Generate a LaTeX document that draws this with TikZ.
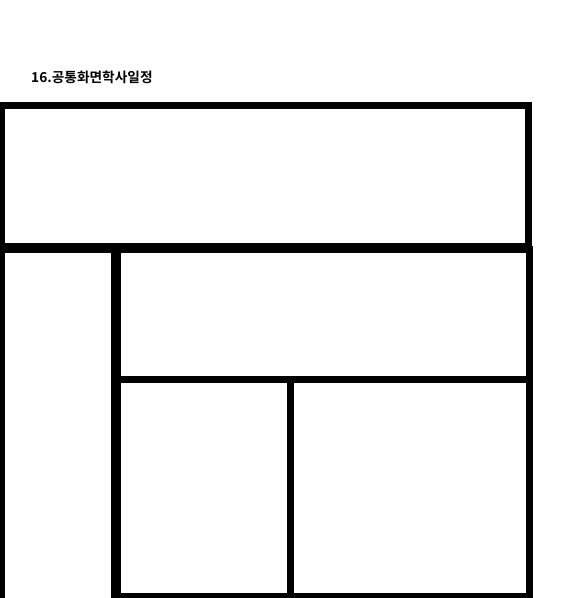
\documentclass[tikz,border=0pt]{standalone}
\usepackage{fontspec}
\newfontfamily\korfont{Noto Sans CJK KR}[BoldFont={Noto Sans CJK KR Bold}]
\usetikzlibrary{positioning}

\begin{document}
\begin{tikzpicture}[x=1pt, y=-1pt,
    pane/.style={draw=black, line width=7pt},
    titletxt/.style={font=\korfont\bfseries\fontsize{13.7}{16}\selectfont, anchor=west, inner sep=0pt}]
    \useasboundingbox (0,0) rectangle (586,598);
    % title
    \node[titletxt] (title) at (31,77) {16.공통화면학사일정};
    % frames
    \draw[pane] (1,105) rectangle (528,246);
    \draw[pane] (1,249) rectangle (114,602);
    \draw[pane] (117.5,249) rectangle (529.5,379);
    \draw[pane] (117.5,379) rectangle (290,596);
    \draw[pane] (290,379) rectangle (529.5,596);
\end{tikzpicture}
\end{document}
